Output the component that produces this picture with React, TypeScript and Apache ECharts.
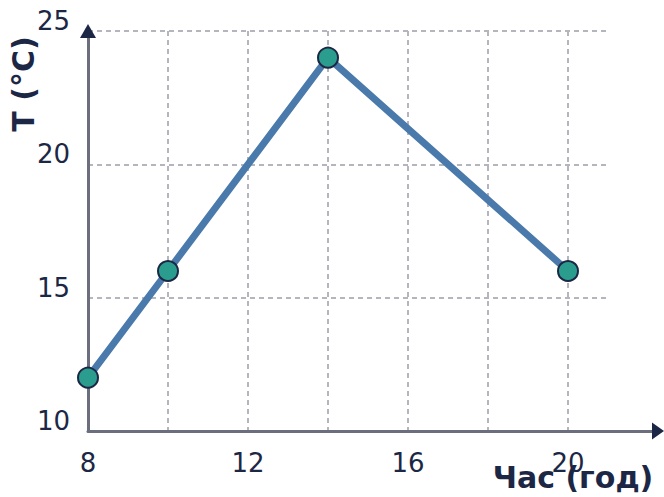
import React, { useEffect, useRef } from "react";
import * as echarts from "echarts";

const hours = [8, 10, 14, 20];
const temps = [12, 16, 24, 16];
const xLabelValues = [8, 12, 16, 20];
const yLabelValues = [10, 15, 20, 25];
const xTitle = "Час (год)";
const yTitle = "T (°C)";

const NAVY = "#1c2745";
const AXIS_GRAY = "#6b6f7d";
const GRID_GRAY = "#b5b5bd";
const FONT = "DejaVu Sans";

export default function App() {
  const ref = useRef<HTMLDivElement>(null);
  useEffect(() => {
    document.body.style.margin = "0";
    const chart = echarts.init(ref.current!, null, { renderer: "svg" });
    const data = hours.map((h, i) => [h, temps[i]]);
    chart.setOption({
      animation: false,
      grid: [
        { left: 88, top: 31, width: 520, height: 400 },
        { left: 88, top: 31, width: 570, height: 400 },
      ],
      xAxis: [
        {
          type: "value",
          gridIndex: 0,
          min: 8,
          max: 21,
          interval: 2,
          axisLine: { show: false },
          axisTick: { show: false },
          splitLine: {
            show: true,
            showMinLine: false,
            showMaxLine: false,
            lineStyle: { color: GRID_GRAY, width: 2, type: [5, 4] },
          },
          axisLabel: {
            margin: 19,
            color: NAVY,
            fontSize: 26,
            fontFamily: FONT,
            showMaxLabel: false,
            formatter: (v: number) => (xLabelValues.includes(v) ? String(v) : ""),
          },
        },
        {
          type: "value",
          gridIndex: 1,
          min: 8,
          max: 22.25,
          position: "bottom",
          axisLine: { show: true, onZero: false, lineStyle: { color: AXIS_GRAY, width: 3 } },
          axisTick: { show: false },
          axisLabel: { show: false },
          splitLine: { show: false },
        },
        {
          type: "value",
          gridIndex: 1,
          min: 8,
          max: 22.25,
          position: "bottom",
          axisLine: {
            show: true,
            onZero: false,
            symbol: ["none", "triangle"],
            symbolSize: [17, 12],
            lineStyle: { color: NAVY, width: 0 },
          },
          axisTick: { show: false },
          axisLabel: { show: false },
          splitLine: { show: false },
        },
      ],
      yAxis: [
        {
          type: "value",
          gridIndex: 0,
          min: 10,
          max: 25,
          interval: 5,
          axisLine: { show: true, onZero: false, lineStyle: { color: AXIS_GRAY, width: 3 } },
          axisTick: { show: false },
          splitLine: {
            show: true,
            showMinLine: false,
            showMaxLine: true,
            lineStyle: { color: GRID_GRAY, width: 2, type: [5, 4] },
          },
          axisLabel: {
            margin: 18,
            color: NAVY,
            fontSize: 26,
            fontFamily: FONT,
            verticalAlign: "bottom",
            lineHeight: 20,
            formatter: (v: number) => (yLabelValues.includes(v) ? String(v) : ""),
          },
        },
        {
          type: "value",
          gridIndex: 0,
          min: 10,
          max: 25,
          position: "left",
          axisLine: {
            show: true,
            onZero: false,
            symbol: ["none", "triangle"],
            symbolSize: [16, 14],
            lineStyle: { color: NAVY, width: 0 },
          },
          axisTick: { show: false },
          axisLabel: { show: false },
          splitLine: { show: false },
        },
        {
          type: "value",
          gridIndex: 1,
          min: 10,
          max: 25,
          show: false,
        },
      ],
      series: [
        {
          type: "line",
          xAxisIndex: 0,
          yAxisIndex: 0,
          data,
          lineStyle: { color: "#4a7aab", width: 7 },
          symbol: "circle",
          symbolSize: 20,
          itemStyle: { color: "#2a9d8f", borderColor: NAVY, borderWidth: 2 },
          z: 5,
        },
      ],
      graphic: [
        {
          type: "text",
          x: 23,
          y: 84,
          rotation: Math.PI / 2,
          style: {
            text: yTitle,
            fill: NAVY,
            font: `bold 30px "${FONT}"`,
            align: "center",
            verticalAlign: "middle",
          },
        },
        {
          type: "text",
          x: 573,
          y: 477,
          style: {
            text: xTitle,
            fill: NAVY,
            font: `bold 30px "${FONT}"`,
            align: "center",
            verticalAlign: "middle",
          },
        },
      ],
    });
    return () => chart.dispose();
  }, []);
  return <div ref={ref} style={{ width: 664, height: 497 }} />;
}
